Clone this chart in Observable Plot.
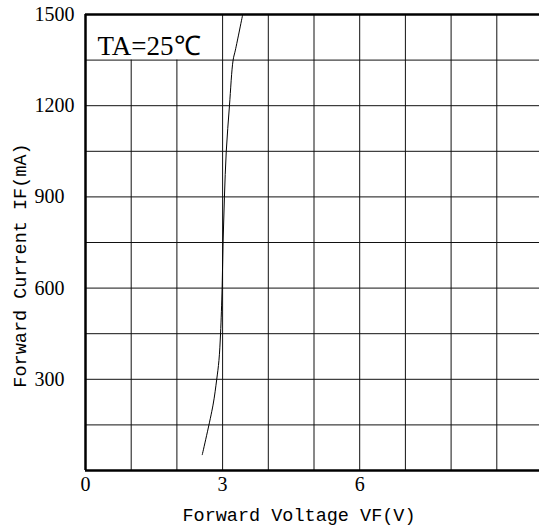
<!DOCTYPE html>
<html>
<head>
<meta charset="utf-8">
<script src="https://cdn.jsdelivr.net/npm/d3@7"></script>
<script src="https://cdn.jsdelivr.net/npm/@observablehq/plot@0.6"></script>
<style>
  html, body { margin: 0; padding: 0; background: #fff; overflow: hidden; }
</style>
</head>
<body>
<div id="chart"></div>
<script>
// Forward voltage (V) vs forward current (mA)
const voltage = [2.555, 2.79, 2.87, 2.92, 2.955, 2.99, 3.01, 3.04, 3.08, 3.15, 3.23, 3.28, 3.44];
const current = [52, 215, 298, 362, 450, 603, 749, 899, 1049, 1200, 1350, 1383, 1500];

const xTicks = [0, 3, 6];
const yTicks = [300, 600, 900, 1200, 1500];
const gridX = [1, 2, 3, 4, 5, 6, 7, 8, 9];
const gridY = [150, 300, 450, 600, 750, 900, 1050, 1200, 1350];
const labelBoxFloor = 1350; // grid columns left of the label stop here
const labelBoxRight = 2;
const xTitle = "Forward Voltage VF(V)";
const yTitle = "Forward Current IF(mA)";
const condition = "TA=25\u2103";

const curve = voltage.map((v, i) => ({v, i: current[i]}));

const chart = Plot.plot({
  width: 539,
  height: 532,
  marginLeft: 85,
  marginRight: -3,
  marginTop: 14,
  marginBottom: 62,
  style: {fontFamily: "'Liberation Serif', serif", background: "#fff", color: "#000", overflow: "visible"},
  x: {domain: [0, 10], axis: null},
  y: {domain: [0, 1500], axis: null},
  marks: [
    Plot.ruleY(gridY, {stroke: "#111", strokeWidth: 1}),
    Plot.ruleX(gridX, {
      x: d => d,
      y1: 0,
      y2: d => (d <= labelBoxRight ? labelBoxFloor : 1500),
      stroke: "#111",
      strokeWidth: 1
    }),
    Plot.ruleX([0], {stroke: "#000", strokeWidth: 2.5}),
    Plot.ruleY([0], {stroke: "#000", strokeWidth: 2.5}),
    Plot.ruleY([1500], {stroke: "#000", strokeWidth: 2.5}),
    Plot.line(curve, {x: "v", y: "i", stroke: "#000", strokeWidth: 1, curve: "catmull-rom"}),
    Plot.text(yTicks, {
      y: d => d,
      frameAnchor: "left",
      text: d => String(d),
      dx: -51,
      textAnchor: "start",
      fontSize: 20,
      fill: "#000"
    }),
    Plot.text(xTicks, {
      x: d => d,
      frameAnchor: "bottom",
      text: d => String(d),
      dy: 20,
      fontSize: 20,
      fill: "#000"
    }),
    Plot.text([condition], {
      frameAnchor: "top-left",
      text: d => d,
      dx: 12,
      dy: 21,
      textAnchor: "start",
      fontSize: 27,
      fill: "#000"
    }),
    Plot.text([xTitle], {
      frameAnchor: "bottom",
      text: d => d,
      dx: -15,
      dy: 50,
      textAnchor: "middle",
      fontSize: 18.5,
      fontFamily: "'Liberation Mono', monospace",
      fill: "#000"
    }),
    Plot.text([yTitle], {
      frameAnchor: "left",
      text: d => d,
      rotate: -90,
      dx: -65,
      dy: 23,
      textAnchor: "middle",
      fontSize: 18.5,
      fontFamily: "'Liberation Mono', monospace",
      fill: "#000"
    })
  ]
});
document.getElementById("chart").appendChild(chart);
</script>
</body>
</html>
